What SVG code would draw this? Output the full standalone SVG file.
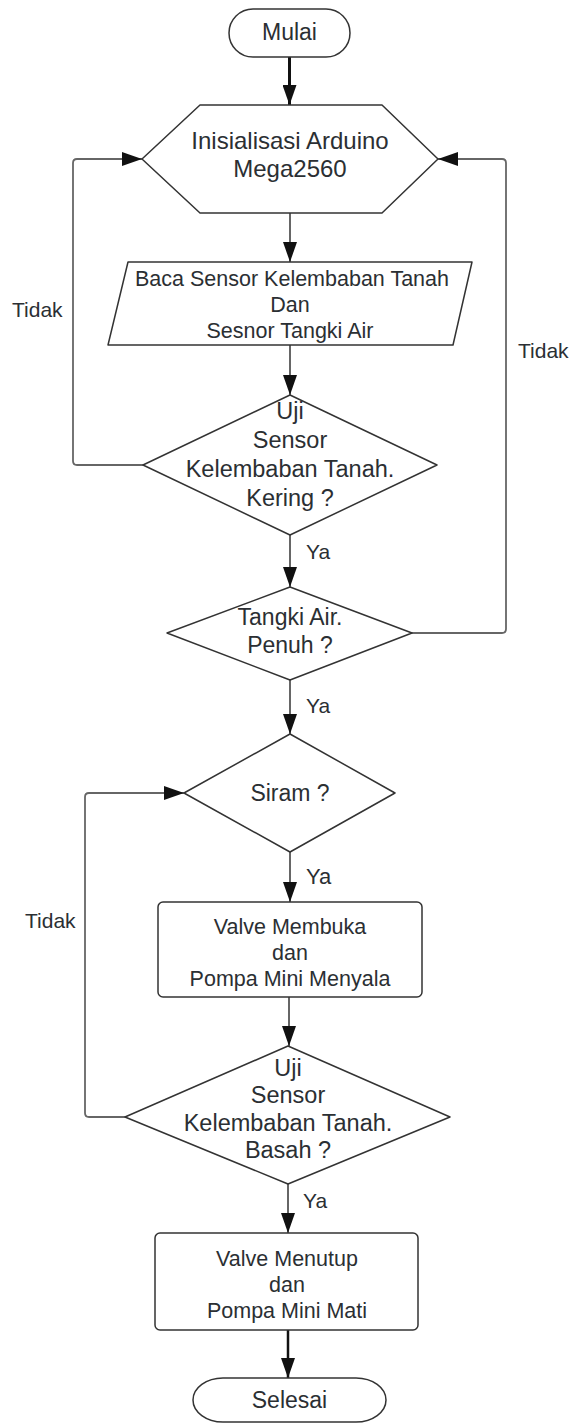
<svg xmlns="http://www.w3.org/2000/svg" width="571" height="1423" viewBox="0 0 571 1423">
<style>
.s{fill:#fff;stroke:#333;stroke-width:1.5;stroke-linejoin:round}
.t{font-family:"Liberation Sans",Arial,sans-serif;fill:#2b2f33;text-anchor:middle}
.l{font-family:"Liberation Sans",Arial,sans-serif;fill:#2b2f33;font-size:21px}
.c{fill:none;stroke:#333;stroke-width:1.5}
.g{fill:none;stroke:#666;stroke-width:1.8}
</style>
<defs>
<marker id="ah" viewBox="0 0 20 14" refX="20" refY="7" markerWidth="20" markerHeight="14" markerUnits="userSpaceOnUse" orient="auto">
<path d="M0,0 L20,7 L0,14 z" fill="#111"/>
</marker>
</defs>
<g id="connectors">
<path class="c" d="M289.5,57 V105" style="stroke:#111;stroke-width:3" marker-end="url(#ah)"/>
<path class="c" d="M290,213 V262" marker-end="url(#ah)"/>
<path class="c" d="M290,345 V395" marker-end="url(#ah)"/>
<path class="g" d="M143,465 H77 Q73,465 73,461 V163 Q73,159 77,159 H142" marker-end="url(#ah)"/>
<path class="c" d="M290,535 V587" marker-end="url(#ah)"/>
<path class="g" d="M412,633 H502 Q506,633 506,629 V163 Q506,159 502,159 H438" marker-end="url(#ah)"/>
<path class="c" d="M290,680 V734" marker-end="url(#ah)"/>
<path class="c" d="M290,852 V902" marker-end="url(#ah)"/>
<path class="c" d="M289,997 V1046" marker-end="url(#ah)"/>
<path class="g" d="M125,1117 H89 Q85,1117 85,1113 V797 Q85,793 89,793 H184" marker-end="url(#ah)"/>
<path class="c" d="M288,1184 V1233" marker-end="url(#ah)"/>
<path class="c" d="M288,1330 V1378" style="stroke:#111;stroke-width:2.5" marker-end="url(#ah)"/>
<text class="l" x="12" y="317">Tidak</text>
<text class="l" x="518" y="358">Tidak</text>
<text class="l" x="25" y="928">Tidak</text>
<text class="l" x="306" y="559">Ya</text>
<text class="l" x="306" y="713">Ya</text>
<text class="l" x="306" y="884" style="font-size:22px">Ya</text>
<text class="l" x="303" y="1208">Ya</text>
</g>
<g id="mulai">
<rect class="s" x="229" y="9" width="121" height="48" rx="24"/>
<text class="t" x="289.5" y="40" font-size="23">Mulai</text>
</g>
<g id="inisialisasi">
<polygon class="s" points="142,159 200,105 382,105 438,159 382,213 200,213"/>
<text class="t" x="290" y="149" font-size="24">Inisialisasi Arduino</text>
<text class="t" x="290" y="177" font-size="24">Mega2560</text>
</g>
<g id="baca">
<polygon class="s" points="128,262 472,262 453,345 108,345"/>
<text class="t" x="292" y="286" font-size="21.5">Baca Sensor Kelembaban Tanah</text>
<text class="t" x="290" y="312" font-size="21.5">Dan</text>
<text class="t" x="290" y="338" font-size="21.5">Sesnor Tangki Air</text>
</g>
<g id="uji1">
<polygon class="s" points="290,395 437,465 290,535 143,465"/>
<text class="t" x="290" y="419" font-size="23.5">Uji</text>
<text class="t" x="290" y="448" font-size="23.5">Sensor</text>
<text class="t" x="290" y="477" font-size="23.5">Kelembaban Tanah.</text>
<text class="t" x="290" y="506" font-size="23.5">Kering ?</text>
</g>
<g id="tangki">
<polygon class="s" points="290,587 412,633 290,680 167,633"/>
<text class="t" x="290" y="625" font-size="23">Tangki Air.</text>
<text class="t" x="290" y="653" font-size="23">Penuh ?</text>
</g>
<g id="siram">
<polygon class="s" points="290,734 395,793 290,852 184,793"/>
<text class="t" x="290" y="801" font-size="23">Siram ?</text>
</g>
<g id="valve-buka">
<rect class="s" x="158" y="902" width="264" height="95" rx="5"/>
<text class="t" x="290" y="934" font-size="21.5">Valve Membuka</text>
<text class="t" x="290" y="960" font-size="21.5">dan</text>
<text class="t" x="290" y="986" font-size="21.5">Pompa Mini Menyala</text>
</g>
<g id="uji2">
<polygon class="s" points="288,1046 450,1117 288,1184 125,1117"/>
<text class="t" x="288" y="1076" font-size="23.5">Uji</text>
<text class="t" x="288" y="1103" font-size="23.5">Sensor</text>
<text class="t" x="288" y="1131" font-size="23.5">Kelembaban Tanah.</text>
<text class="t" x="288" y="1158" font-size="23.5">Basah ?</text>
</g>
<g id="valve-tutup">
<rect class="s" x="155" y="1233" width="263" height="97" rx="5"/>
<text class="t" x="287" y="1266" font-size="21.5">Valve Menutup</text>
<text class="t" x="287" y="1292" font-size="21.5">dan</text>
<text class="t" x="287" y="1318" font-size="21.5">Pompa Mini Mati</text>
</g>
<g id="selesai">
<rect class="s" x="193" y="1378" width="193" height="44" rx="30" ry="22"/>
<text class="t" x="289.5" y="1408" font-size="23">Selesai</text>
</g>
</svg>
